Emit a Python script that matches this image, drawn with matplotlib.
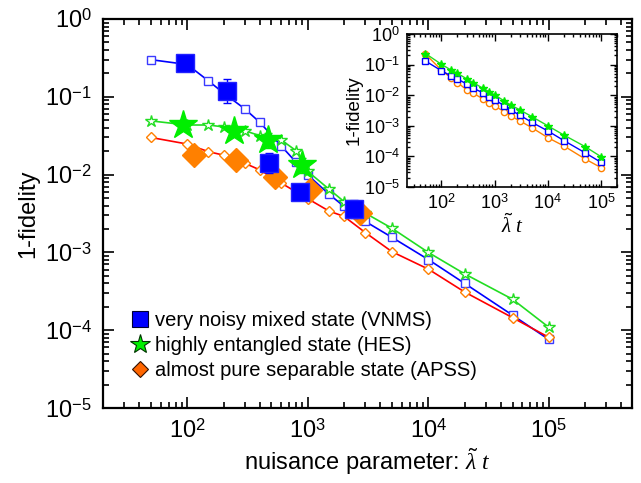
import numpy as np
import matplotlib
matplotlib.use("Agg")
import matplotlib.pyplot as plt
from matplotlib.ticker import LogLocator, NullFormatter, FixedLocator, FixedFormatter
from matplotlib.lines import Line2D

plt.rcParams['font.family'] = ['Liberation Sans', 'DejaVu Sans']
plt.rcParams['mathtext.fontset'] = 'custom'
plt.rcParams['mathtext.rm'] = 'Liberation Sans'
plt.rcParams['mathtext.sf'] = 'Liberation Sans'
plt.rcParams['mathtext.it'] = 'Liberation Serif:italic'

# ---------------- main panel data ----------------
sim_x = [50, 100, 150, 200, 300, 400, 600, 800, 1000, 1500, 2000, 3000, 5000, 1e4, 2e4, 5e4, 1e5]
vnms_sim = [0.30, 0.26, 0.16, 0.112, 0.070, 0.047, 0.0235, 0.0144, 0.0099, 0.0056, 0.0039, 0.0025,
            0.00156, 0.00081, 0.00040, 0.000156, 7.6e-5]
hes_sim = [0.049, 0.0434, 0.0434, 0.041, 0.0367, 0.0316, 0.028, 0.0203, 0.011, 0.0065, 0.0045, 0.0032,
           0.00204, 0.0010, 0.00053, 0.00025, 0.000109]
apss_sim = [0.030, 0.0247, 0.0197, 0.0178, 0.014, 0.0115, 0.0078, 0.0060, 0.0049, 0.0034, 0.0029, 0.0018,
            0.00102, 0.00061, 0.00031, 0.000145, 8.1e-5]

vnms_exp_x = [96, 213, 480, 865, 2400]
vnms_exp = [0.27, 0.12, 0.014, 0.0060, 0.0036]
vnms_exp_lo = [0.24, 0.083, 0.0104, 0.0052, 0.0028]
vnms_exp_hi = [0.30, 0.17, 0.019, 0.0070, 0.0047]

hes_exp_x = [93, 246, 470, 890]
hes_exp = [0.0434, 0.036, 0.0279, 0.0133]
hes_exp_lo = [0.037, 0.031, 0.022, 0.0105]
hes_exp_hi = [0.050, 0.042, 0.034, 0.0165]

apss_exp_x = [113, 254, 536, 1050, 2700]
apss_exp = [0.0178, 0.0154, 0.0094, 0.0063, 0.0032]
apss_exp_lo = [0.0165, 0.0142, 0.0085, 0.0058, 0.0028]
apss_exp_hi = [0.0192, 0.0167, 0.0104, 0.0069, 0.0037]

labels = ['very noisy mixed state (VNMS)', 'highly entangled state (HES)',
          'almost pure separable state (APSS)']

# ---------------- inset data ----------------
in_x = [50, 100, 150, 200, 300, 400, 600, 800, 1000, 1500, 2000, 3000, 5000, 1e4, 2e4, 5e4, 1e5]
in_vnms = [0.131, 0.063, 0.043, 0.034, 0.023, 0.0168, 0.012, 0.0085, 0.0070, 0.0046, 0.0033, 0.0022,
           0.0013, 0.00068, 0.00033, 0.000132, 6.4e-5]
in_hes = [0.23, 0.102, 0.067, 0.052, 0.034, 0.0257, 0.0168, 0.013, 0.0102, 0.0066, 0.0048, 0.0033,
          0.0020, 0.0010, 0.0005, 0.00021, 9.8e-5]
in_apss = [0.22, 0.066, 0.037, 0.026, 0.0148, 0.0115, 0.0076, 0.0054, 0.0045, 0.0029, 0.0021, 0.00144,
           0.00087, 0.00041, 0.00022, 8.3e-5, 4.3e-5]

x_ticks = [1e2, 1e3, 1e4, 1e5]
x_ticklabels = [r'$10^{2}$', r'$10^{3}$', r'$10^{4}$', r'$10^{5}$']
y_ticks = [1e-5, 1e-4, 1e-3, 1e-2, 1e-1, 1]
y_ticklabels = [r'$10^{-5}$', r'$10^{-4}$', r'$10^{-3}$', r'$10^{-2}$', r'$10^{-1}$', r'$10^{0}$']

BLUE = '#0000ff'
GREEN = '#00ee00'
LGREEN = '#22dd22'
ORANGE = '#ff8000'
RED = '#ff0000'

fig = plt.figure(figsize=(6.41, 4.83), dpi=100)
ax = fig.add_axes([103/641, 1 - 408/483, (632-103)/641, (408-19)/483])

ax.plot(sim_x, vnms_sim, '-', color=BLUE, lw=1.2, marker='s', ms=6, mfc='white', mec='#3a3aff', mew=1.0, zorder=3)
ax.plot(sim_x, hes_sim, '-', color=LGREEN, lw=1.2, marker='*', ms=9, mfc='white', mec=LGREEN, mew=1.0, zorder=3)
ax.plot(sim_x, apss_sim, '-', color=RED, lw=1.2, marker='D', ms=5.5, mfc='white', mec=ORANGE, mew=1.0, zorder=3)

def yerr(v, lo, hi):
    v = np.array(v)
    return [v - np.array(lo), np.array(hi) - v]

ax.errorbar(apss_exp_x, apss_exp, yerr=yerr(apss_exp, apss_exp_lo, apss_exp_hi), fmt='D', ms=12,
            color=ORANGE, mec=ORANGE, ecolor=ORANGE, elinewidth=1, capsize=3, zorder=4)
ax.errorbar(vnms_exp_x, vnms_exp, yerr=yerr(vnms_exp, vnms_exp_lo, vnms_exp_hi), fmt='s', ms=13.5,
            color=BLUE, mec='#2222ff', ecolor=BLUE, elinewidth=1, capsize=3, zorder=5)
ax.errorbar(hes_exp_x, hes_exp, yerr=yerr(hes_exp, hes_exp_lo, hes_exp_hi), fmt='*', ms=21,
            color=GREEN, mec=GREEN, ecolor=GREEN, elinewidth=1, capsize=3, zorder=6)

ax.set_xscale('log')
ax.set_yscale('log')
ax.set_xlim(20, 4.9e5)
ax.set_ylim(1e-5, 1)
ax.xaxis.set_major_locator(FixedLocator(x_ticks))
ax.xaxis.set_major_formatter(FixedFormatter(x_ticklabels))
ax.yaxis.set_major_locator(FixedLocator(y_ticks))
ax.yaxis.set_major_formatter(FixedFormatter(y_ticklabels))
for a in (ax.xaxis, ax.yaxis):
    a.set_minor_locator(LogLocator(base=10, subs=np.arange(2, 10), numticks=20))
    a.set_minor_formatter(NullFormatter())
ax.tick_params(which='both', direction='in', top=True, right=True, width=1.2)
ax.tick_params(which='major', length=8, labelsize=17, pad=8)
ax.tick_params(which='minor', length=4)
for s in ax.spines.values():
    s.set_linewidth(1.6)

ax.set_ylabel('1-fidelity', fontsize=17, labelpad=4)
ax.set_xlabel(r'nuisance parameter: $\tilde{\lambda}\ t$', fontsize=17, labelpad=2)

handles = [Line2D([], [], ls='none', marker='s', ms=11, mfc=BLUE, mec='#000033', mew=0.8),
           Line2D([], [], ls='none', marker='*', ms=15, mfc=GREEN, mec='#003300', mew=0.8),
           Line2D([], [], ls='none', marker='D', ms=8, mfc='#ff6600', mec='#331100', mew=0.8)]
ax.legend(handles, labels, loc='upper left', bbox_to_anchor=(0.04, 0.27), frameon=False, fontsize=14.5,
          handlelength=0.8, handletextpad=0.35, labelspacing=0.3, borderaxespad=0)

# ---------------- inset ----------------
ins = fig.add_axes([407/641, 1 - 187/483, 210/641, 153/483])
ins.plot(in_x, in_hes, '-', color=LGREEN, lw=1.0, marker='*', ms=6, mfc=GREEN, mec=GREEN, zorder=4)
ins.plot(in_x, in_vnms, '-', color=BLUE, lw=1.0, marker='s', ms=4, mfc='white', mec=BLUE, mew=1.0, zorder=3)
ins.plot(in_x, in_apss, '-', color=ORANGE, lw=1.0, marker='o', ms=4.5, mfc='white', mec=ORANGE, mew=1.0, zorder=2)
ins.set_xscale('log')
ins.set_yscale('log')
ins.set_xlim(22.5, 2e5)
ins.set_ylim(1e-5, 1)
ins.xaxis.set_major_locator(FixedLocator(x_ticks))
ins.xaxis.set_major_formatter(FixedFormatter(x_ticklabels))
ins.yaxis.set_major_locator(FixedLocator(y_ticks))
ins.yaxis.set_major_formatter(FixedFormatter(y_ticklabels))
for a in (ins.xaxis, ins.yaxis):
    a.set_minor_locator(LogLocator(base=10, subs=np.arange(2, 10), numticks=20))
    a.set_minor_formatter(NullFormatter())
ins.tick_params(which='both', direction='in', top=True, right=True, width=1.0)
ins.tick_params(which='major', length=5, labelsize=13, pad=5)
ins.tick_params(which='minor', length=2.5)
for s in ins.spines.values():
    s.set_linewidth(1.2)
ins.set_ylabel('1-fidelity', fontsize=13.5, labelpad=1)
ins.set_xlabel(r'$\tilde{\lambda}\ t$', fontsize=15, labelpad=0)

fig.savefig('out.png', dpi=100)
